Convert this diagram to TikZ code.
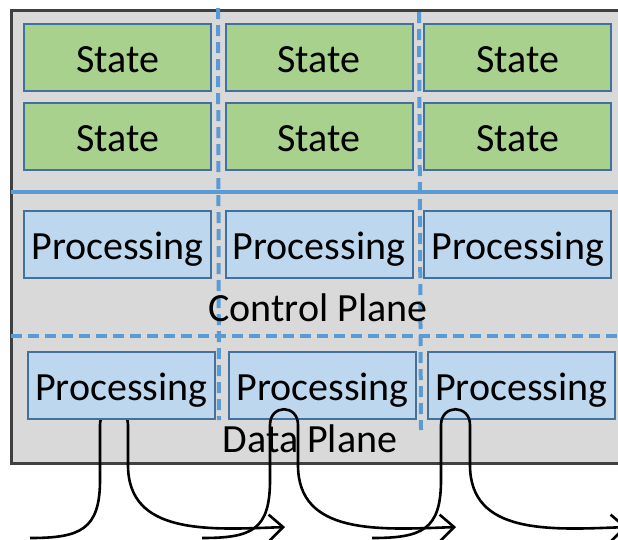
\documentclass[tikz,border=0pt]{standalone}
\usepackage{fontspec}
\setmainfont{Carlito}
\usepackage{tikz}
\usetikzlibrary{arrows.meta}
\definecolor{stategreen}{RGB}{169,209,142}
\definecolor{procblue}{RGB}{189,215,238}
\definecolor{boxedge}{RGB}{65,113,156}
\definecolor{planeblue}{RGB}{91,155,213}
\definecolor{panelgray}{RGB}{217,217,217}
\definecolor{paneledge}{RGB}{64,64,64}

\begin{document}
\begin{tikzpicture}[x=1pt,y=-1pt,
  statebox/.style={draw=boxedge,fill=stategreen,line width=2pt,minimum width=187pt,minimum height=67pt,
    inner sep=0pt,text height=29pt,text depth=0pt,font=\fontsize{40}{48}\selectfont},
  procbox/.style={statebox,fill=procblue},
  planelabel/.style={anchor=base,inner sep=0pt,font=\fontsize{40}{48}\selectfont},
  planeline/.style={draw=planeblue,line width=4pt},
  flow/.style={line width=2.6pt,-{Straight Barb[length=14pt,width=26pt]}}]
  \useasboundingbox (0,0) rectangle (618,539);
  \clip (0,0) rectangle (618,539);

  % panel behind everything
  \draw[fill=panelgray,draw=paneledge,line width=3pt] (11,10) rectangle (640,463);

  % plane borders
  \draw[planeline] (11,192) -- (640,192);
  \draw[planeline,dash pattern=on 11pt off 6pt] (11,336) -- (640,336);
  \draw[planeline,dash pattern=on 11pt off 6pt] (218,8) -- (219,420);
  \draw[planeline,dash pattern=on 11pt off 6pt] (419,12) -- (421,430);

  \node[planelabel] (ctrl) at (318,321) {Control Plane};
  \node[planelabel] (data) at (310,452) {Data Plane};

  % first flow passes behind its box
  \coordinate (in1) at (30,538);
  \coordinate (out1) at (285,527);
  \draw[flow] (in1) .. controls (80,538) and (100,530) .. (100,480) -- (100,425)
    .. controls (100,404) and (128,404) .. (128,425) -- (128,465)
    .. controls (128,535) and (208,530) .. (out1);

  \foreach \x/\n in {117.5/1,319/2,517.75/3}{
    \node[statebox] (st\n a) at (\x,57.5) {State};
    \node[statebox] (st\n b) at (\x,136.5) {State};
    \node[procbox] (cp\n) at (\x,244.5) {Processing};
  }
  \foreach \x/\n in {121.3/1,322.7/2,521.3/3}{
    \node[procbox] (dp\n) at (\x,385.5) {Processing};
  }

  % flows looping over the data plane boxes
  \foreach \sx/\lx/\rx/\ex/\n in {202/270/298/456/2,372/441/470/627/3}{
    \coordinate (in\n) at (\sx,538);
    \coordinate (out\n) at (\ex,527);
    \draw[flow] (in\n) .. controls ({\sx+50},538) and (\lx,530) .. (\lx,480) -- (\lx,425)
      .. controls (\lx,404) and (\rx,404) .. (\rx,425) -- (\rx,465)
      .. controls (\rx,535) and ({\rx+80},530) .. (out\n);
  }
\end{tikzpicture}
\end{document}
